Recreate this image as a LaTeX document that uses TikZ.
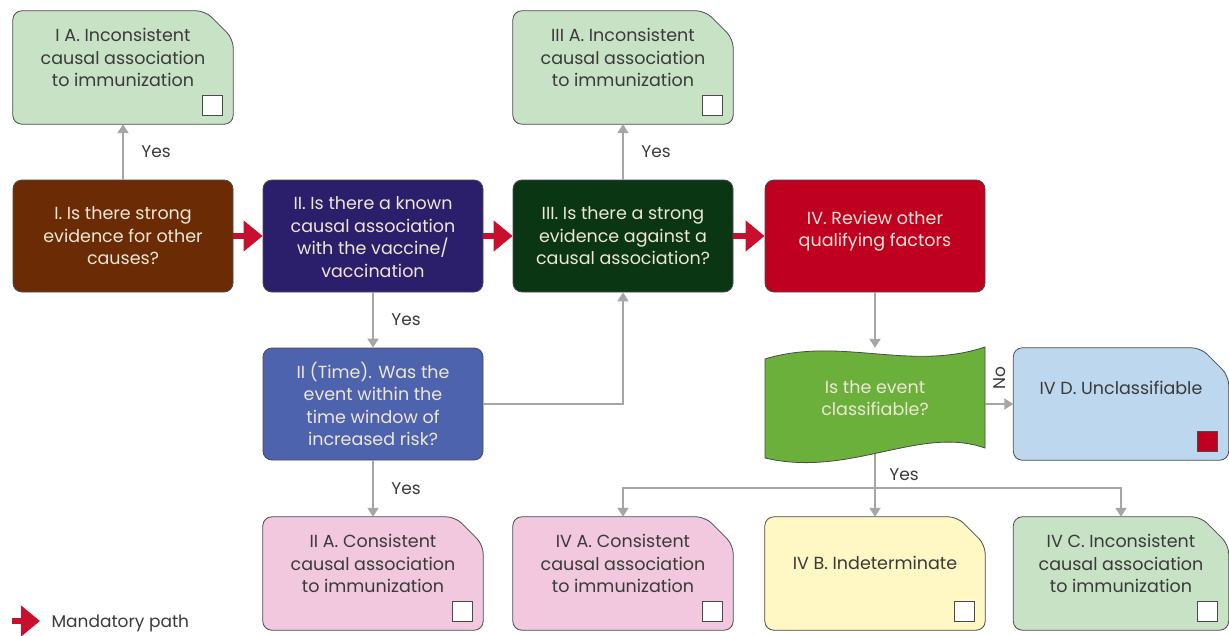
\documentclass[tikz,border=0pt]{standalone}
\usepackage{fontspec}
\setmainfont{Poppins}
\usetikzlibrary{arrows.meta,backgrounds,calc}
\definecolor{cBrown}{HTML}{6B2C05}
\definecolor{cNavy}{HTML}{2B1F6B}
\definecolor{cDGreen}{HTML}{0A3613}
\definecolor{cRed}{HTML}{C00020}
\definecolor{cBlue}{HTML}{4E63AE}
\definecolor{cWave}{HTML}{6AB03A}
\definecolor{cLBlue}{HTML}{BDD7EE}
\definecolor{cPink}{HTML}{F2C8DF}
\definecolor{cYellow}{HTML}{FFF7C4}
\definecolor{cLGreen}{HTML}{C8E2C6}
\definecolor{cArrow}{HTML}{C8102E}
\definecolor{cGray}{HTML}{A6A6A6}
\definecolor{cEdge}{HTML}{4A4A4A}
\definecolor{cLightText}{HTML}{EEE6D6}
\definecolor{cDarkText}{HTML}{3A3A3A}
\tikzset{
  boxnode/.style={rectangle, minimum width=220pt, minimum height=112pt, inner sep=0pt},
  darkbox/.style={boxnode, draw=cEdge, line width=0.8pt, rounded corners=9pt, fill=#1},
  txt/.style={align=center, font=\fontsize{17.5}{22.5}\selectfont},
  lighttxt/.style={txt, text=cLightText},
  darktxt/.style={txt, text=cDarkText},
  garrow/.style={draw=cGray, line width=2pt, -{Triangle[length=9pt,width=11pt]}},
  gline/.style={draw=cGray, line width=2pt},
  rarrow/.style={draw=cArrow, line width=6pt, -{Triangle[length=19pt,width=30pt]}},
  lbl/.style={text=cDarkText, font=\fontsize{17}{20}\selectfont},
}
\newcommand{\drawcard}[3][28]{%
  \draw[draw=cEdge, line width=0.8pt, fill=#3, rounded corners=9pt]
    ([xshift=-#1pt]#2.north east) -- (#2.north west) -- (#2.south west)
    -- (#2.south east) -- ([yshift=-#1pt]#2.north east) -- cycle;
}
\newcommand{\drawsq}[2]{%
  \draw[draw=cEdge, line width=0.8pt, fill=#2]
    ([shift={(-11pt,9pt)}]#1.south east) rectangle ++(-20pt,20pt);
}
\begin{document}
\begin{tikzpicture}[x=1pt,y=-1pt]
\useasboundingbox (0,0) rectangle (1229,635);
% main row
\node[darkbox=cBrown] (I) at (123,236) {};
\node[lighttxt] (It) at (I.center) {I. Is there strong\\evidence for other\\causes?};
\node[darkbox=cNavy] (II) at (373,236) {};
\node[lighttxt] (IIt) at ([yshift=-1pt]II.center) {II. Is there a known\\causal association\\with the vaccine/\\vaccination};
\node[darkbox=cDGreen] (III) at (623,236) {};
\node[lighttxt] (IIIt) at (III.center) {III. Is there a strong\\evidence against a\\causal association?};
\node[darkbox=cRed] (IV) at (875,236) {};
\node[lighttxt] (IVt) at ([yshift=5pt]IV.center) {IV. Review other\\qualifying factors};
\node[darkbox=cBlue] (IIT) at (373,404) {};
\node[lighttxt] (IITt) at (IIT.center) {II (Time). Was the\\event within the\\time window of\\increased risk?};
% wave
\node[boxnode, minimum height=104pt] (W) at (875,404) {};
\begin{scope}[on background layer]
\draw[draw=cEdge, line width=0.8pt, fill=cWave]
  (765,359) .. controls (840,336) and (910,372) .. (985,347)
  -- (985,448) .. controls (920,425) and (850,478) .. (765,458) -- cycle;
\end{scope}
\node[lighttxt] (Wt) at ([yshift=6pt]W.center) {Is the event\\classifiable?};
% cards
\node[boxnode, minimum height=113pt] (IA) at (123,67.5) {};
\node[boxnode, minimum height=113pt] (IIIA) at (623,67.5) {};
\node[boxnode, minimum width=215pt] (IVD) at (1121,404) {};
\node[boxnode, minimum height=113pt] (IIA) at (373,573.5) {};
\node[boxnode, minimum height=113pt] (IVA) at (623,573.5) {};
\node[boxnode, minimum height=113pt] (IVB) at (875,573.5) {};
\node[boxnode, minimum width=215pt, minimum height=113pt] (IVC) at (1121,573.5) {};
\begin{scope}[on background layer]
\drawcard{IA}{cLGreen}
\drawcard{IIIA}{cLGreen}
\drawcard{IVD}{cLBlue}
\drawcard{IIA}{cPink}
\drawcard{IVA}{cPink}
\drawcard{IVB}{cYellow}
\drawcard{IVC}{cLGreen}
\end{scope}
\drawsq{IA}{white}
\drawsq{IIIA}{white}
\drawsq{IVD}{cRed}
\drawsq{IIA}{white}
\drawsq{IVA}{white}
\drawsq{IVB}{white}
\drawsq{IVC}{white}
\node[darktxt] (IAt) at ([yshift=10pt]IA.center) {I A. Inconsistent\\causal association\\to immunization};
\node[darktxt] (IIIAt) at ([yshift=10pt]IIIA.center) {III A. Inconsistent\\causal association\\to immunization};
\node[darktxt] (IVDt) at ([yshift=16pt]IVD.center) {IV D. Unclassifiable};
\node[darktxt] (IIAt) at ([yshift=10pt]IIA.center) {II A. Consistent\\causal association\\to immunization};
\node[darktxt] (IVAt) at ([yshift=10pt]IVA.center) {IV A. Consistent\\causal association\\to immunization};
\node[darktxt] (IVBt) at ([yshift=11pt]IVB.center) {IV B. Indeterminate};
\node[darktxt] (IVCt) at ([yshift=10pt]IVC.center) {IV C. Inconsistent\\causal association\\to immunization};
% red mandatory arrows
\draw[rarrow] (I.east) -- (II.west);
\draw[rarrow] (II.east) -- (III.west);
\draw[rarrow] (III.east) -- (IV.west);
% gray connectors
\draw[garrow] (I.north) -- (IA.south) node[midway, right=14pt, lbl] (y1) {Yes};
\draw[garrow] (III.north) -- (IIIA.south) node[midway, right=14pt, lbl] (y2) {Yes};
\draw[garrow] (II.south) -- (IIT.north) node[midway, right=14pt, lbl] (y3) {Yes};
\draw[garrow] (IIT.south) -- (IIA.north) node[midway, right=14pt, lbl] (y4) {Yes};
\draw[garrow] (IIT.east) -| (III.south);
\draw[garrow] (IV.south) -- ([yshift=4pt]W.north);
\draw[garrow] (W.east) -- (IVD.west);
\node[lbl, rotate=90] (no) at ($(W.east)!0.5!(IVD.west)+(0,-26)$) {No};
\coordinate (J) at (875,488);
\draw[gline] ([yshift=2pt]W.south) -- (J) node[pos=0.6, right=10pt, lbl] (y5) {Yes};
\draw[garrow] (J) -| (IVA.north);
\draw[garrow] (J) -- (IVB.north);
\draw[garrow] (J) -| (IVC.north);
% legend
\coordinate (L1) at (12,621);
\coordinate (L2) at (40,621);
\draw[rarrow] (L1) -- (L2);
\node[lbl, anchor=west] (leg) at (48,623) {Mandatory path};
\end{tikzpicture}
\end{document}
